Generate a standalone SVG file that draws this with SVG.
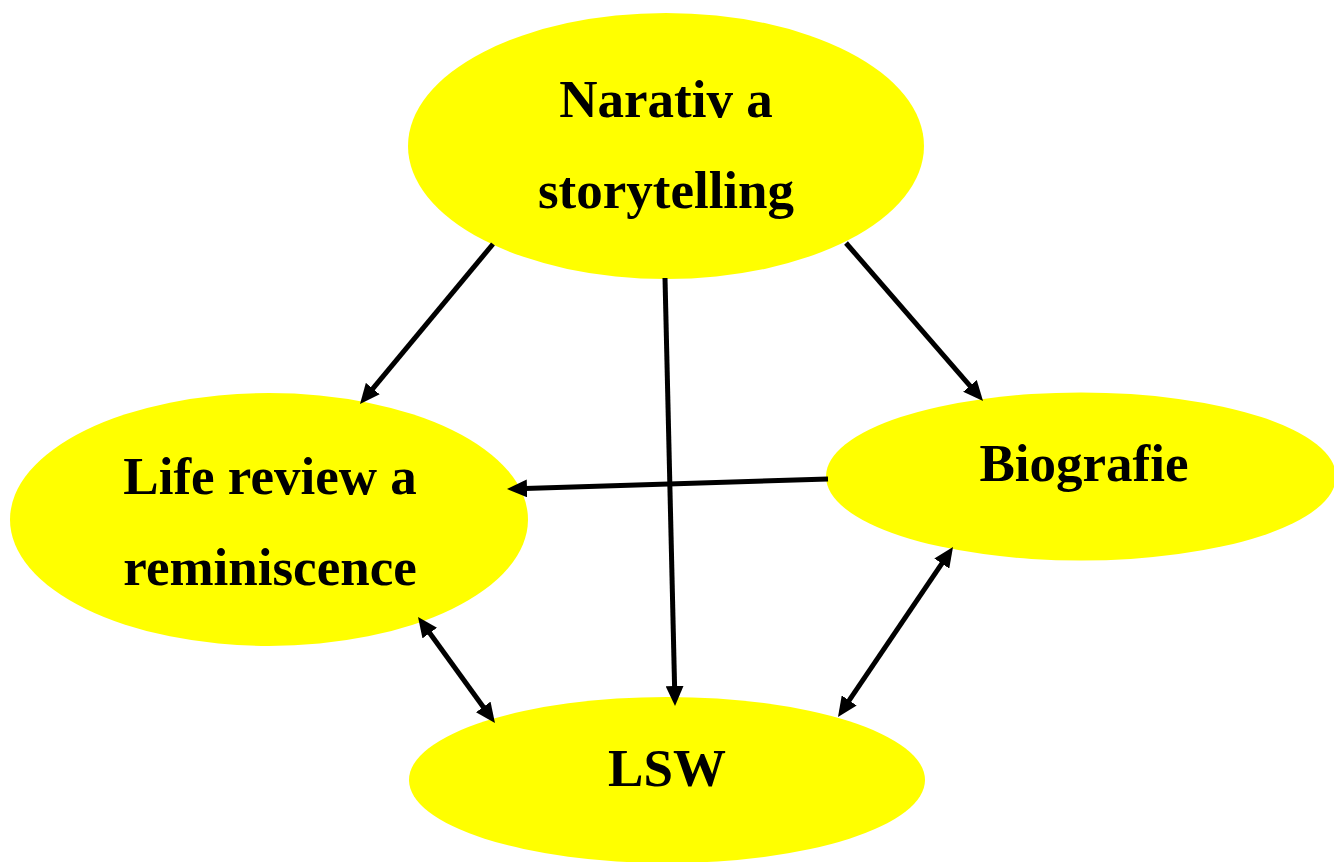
<svg xmlns="http://www.w3.org/2000/svg" width="1334" height="862" viewBox="0 0 1334 862">
<style>
.node{fill:#FFFF00;stroke:none}
.lbl{font-family:"Liberation Serif","Times New Roman",serif;font-weight:bold;font-size:53px;fill:#000;text-anchor:middle}
.conn{fill:none;stroke:#000;stroke-width:5}
</style>
<defs>
<marker id="ah" markerUnits="userSpaceOnUse" markerWidth="20" markerHeight="18" refX="10" refY="9" orient="auto-start-reverse" viewBox="0 0 20 18">
<path d="M0,0 L20,9 L0,18 z" fill="#000"/>
</marker>
</defs>
<rect width="1334" height="862" fill="#fff"/>
<g id="node-narativ">
<ellipse class="node" cx="666" cy="146" rx="258" ry="133"/>
<text class="lbl" x="666" y="117">Narativ a</text>
<text class="lbl" x="666" y="208">storytelling</text>
</g>
<g id="node-life">
<ellipse class="node" cx="269" cy="519.5" rx="259" ry="126.5"/>
<text class="lbl" x="270" y="494">Life review a</text>
<text class="lbl" x="270" y="585">reminiscence</text>
</g>
<g id="node-biografie">
<ellipse class="node" cx="1081" cy="476.5" rx="255" ry="84"/>
<text class="lbl" x="1084" y="481">Biografie</text>
</g>
<g id="node-lsw">
<ellipse class="node" cx="667" cy="780" rx="258" ry="83"/>
<text class="lbl" x="667" y="786">LSW</text>
</g>
<g id="connectors">
<path class="conn" d="M493,244 L366.4,396.3" marker-end="url(#ah)"/>
<path class="conn" d="M665,278 L674.8,696" marker-end="url(#ah)"/>
<path class="conn" d="M846,243 L976.5,393.4" marker-end="url(#ah)"/>
<path class="conn" d="M828,479 L517,488.7" marker-end="url(#ah)"/>
<path class="conn" d="M423.9,625 L489.1,715" marker-start="url(#ah)" marker-end="url(#ah)"/>
<path class="conn" d="M947.4,555.3 L843.6,708.7" marker-start="url(#ah)" marker-end="url(#ah)"/>
</g>
</svg>
